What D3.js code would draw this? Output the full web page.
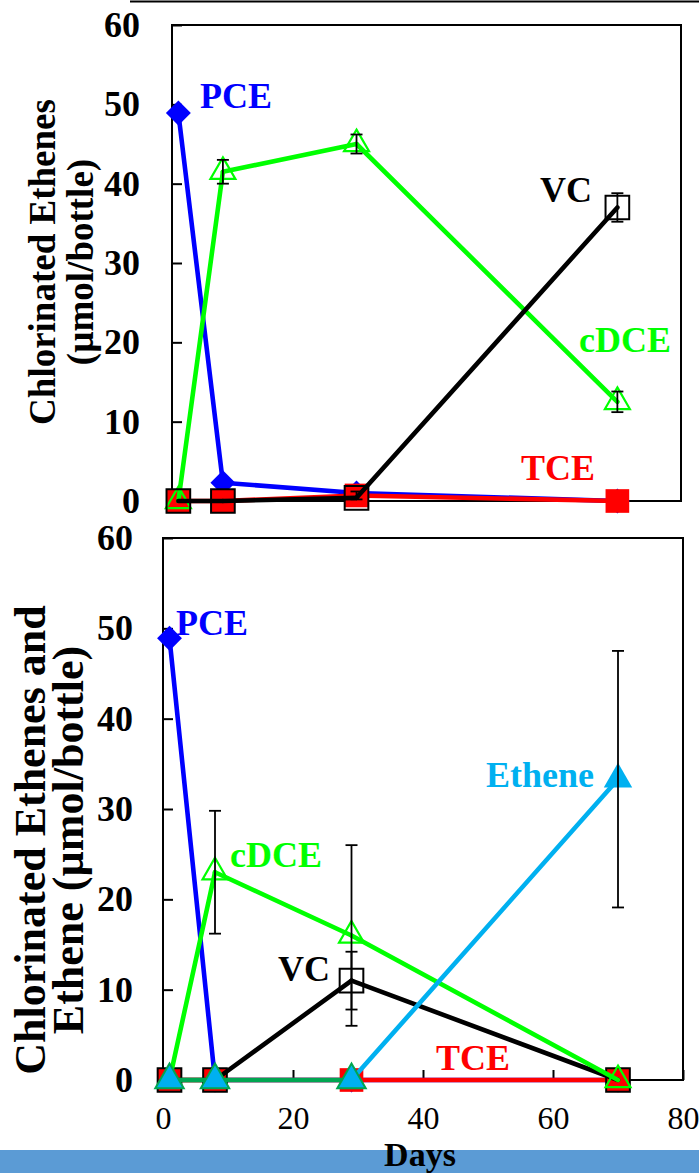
<!DOCTYPE html>
<html>
<head>
<meta charset="utf-8">
<script src="https://cdn.jsdelivr.net/npm/d3@7"></script>
<style>
  html, body { margin: 0; padding: 0; background: #fff; }
  svg { display: block; }
  text { font-family: "Liberation Serif", "Times New Roman", serif; }
</style>
</head>
<body>
<svg id="chart" width="699" height="1173"></svg>
<script>
// ---- data ----
const days = [1, 8, 29, 70];
const xTicks = [0, 20, 40, 60, 80];
const yTicks = [0, 10, 20, 30, 40, 50, 60];

// upper panel: chlorinated ethenes (µmol/bottle)
const aPCE = [48.9, 2.3, 1.0, 0];
const aTCE = [0, 0, 0.7, 0];
const aTCEErr = [0, 0, 0.5, 0];
const aCDCE = [0, 41.5, 45.0, 12.5];
const aCDCEErr = [0, 1.5, 1.2, 1.3];
const aVC = [0, 0, 0.4, 37.0];
const aVCErr = [0, 0, 0, 1.8];

// lower panel: chlorinated ethenes and ethene (µmol/bottle)
const bPCE = [48.9, 0, 0, 0];
const bTCE = [0, 0, 0, 0];
const bVC = [0, 0, 11.0, 0];
const bVCErr = [0, 0, 3.2, 0];
const bCDCE = [0, 23.0, 16.0, 0];
const bCDCEErr = [0, 6.8, 10.0, 0];
const bEthene = [0, 0, 0, 33.3];
const bEtheneErr = [0, 0, 0, 14.2];

// ---- styles ----
const SERIF = '"Liberation Serif", "Times New Roman", serif';
const COL = {
  pce: "#0000ff", tce: "#ff0000", cdce: "#00ff00", vc: "#000000",
  eth: "#00b0f0", ethBase: "#00a651"
};

const svg = d3.select("#chart");

// rule across the top
svg.append("line")
  .attr("x1", 130).attr("x2", 699).attr("y1", 1.5).attr("y2", 1.5)
  .attr("stroke", "#000").attr("stroke-width", 2);

function drawPanel(cfg) {
  const x = d3.scaleLinear().domain([0, 80]).range([cfg.left, cfg.right]);
  const y = d3.scaleLinear().domain([0, 60]).range([cfg.bottom, cfg.top]);
  const g = svg.append("g");

  // y axis with inward ticks
  const ya = g.append("g").attr("transform", `translate(${cfg.left},0)`)
    .call(d3.axisLeft(y).tickValues(yTicks).tickSize(-10).tickPadding(cfg.yPad))
    .attr("font-family", SERIF);
  ya.select(".domain").remove();
  ya.selectAll("line").attr("stroke", "#000").attr("stroke-width", 2);
  ya.selectAll("text").attr("font-size", 36).attr("font-weight", "bold")
    .attr("fill", "#000").style("font-family", SERIF);

  if (cfg.xAxis) {
    const xa = g.append("g").attr("transform", `translate(0,${cfg.bottom})`)
      .call(d3.axisBottom(x).tickValues(xTicks).tickSize(-10).tickPadding(26))
      .attr("font-family", SERIF);
    xa.select(".domain").remove();
    xa.selectAll("line").attr("stroke", "#000").attr("stroke-width", 2);
    xa.selectAll("text").attr("font-size", 32).attr("font-weight", "normal").attr("fill", "#000")
      .style("font-family", SERIF);
  }

  // frame
  g.append("rect")
    .attr("x", cfg.left).attr("y", cfg.top)
    .attr("width", cfg.right - cfg.left).attr("height", cfg.bottom - cfg.top)
    .attr("fill", "none").attr("stroke", "#000").attr("stroke-width", 2);

  const sym = {
    diamond: d3.symbol(d3.symbolSquare, 310),
    square: d3.symbol(d3.symbolSquare, 560),
    tri: d3.symbol(d3.symbolTriangle, 270),
    triBig: d3.symbol(d3.symbolTriangle, 350)
  };

  cfg.series.forEach(s => {
    const pts = days.map((d, i) => ({ d, v: s.values[i], e: s.err ? s.err[i] : 0 }));
    const sg = g.append("g");
    // connecting line, segment by segment so each can take its own colour
    for (let i = 0; i < pts.length - 1; i++) {
      const a = pts[i], b = pts[i + 1];
      const c = s.segColor ? s.segColor(a, b) : s.color;
      sg.append("line")
        .attr("x1", x(a.d)).attr("y1", y(a.v))
        .attr("x2", x(b.d)).attr("y2", y(b.v))
        .attr("stroke", c).attr("stroke-width", 4.6)
        .attr("stroke-linecap", "round");
    }
    // markers
    pts.forEach(p => {
      const m = sg.append("path")
        .attr("transform", `translate(${x(p.d)},${y(p.v)})` + (s.marker === "diamond" ? " rotate(45)" : ""));
      if (s.marker === "diamond") {
        m.attr("d", sym.diamond()).attr("fill", s.color);
      } else if (s.marker === "square") {
        m.attr("d", sym.square()).attr("fill", s.color);
      } else if (s.marker === "squareOpen") {
        m.attr("d", sym.square()).attr("fill", "none").attr("stroke", s.color).attr("stroke-width", 2);
      } else if (s.marker === "triOpen") {
        m.attr("d", sym.tri()).attr("fill", "none").attr("stroke", s.color).attr("stroke-width", 2.2);
      } else if (s.marker === "tri") {
        m.attr("d", sym.triBig()).attr("fill", s.color)
          .attr("stroke", s.markerStroke ? s.markerStroke(p) : "none").attr("stroke-width", 2);
      }
    });
    // error bars
    pts.filter(p => p.e > 0).forEach(p => {
      const cx = x(p.d), y1 = y(p.v + p.e), y2 = y(p.v - p.e);
      sg.append("line").attr("x1", cx).attr("x2", cx).attr("y1", y1).attr("y2", y2)
        .attr("stroke", "#000").attr("stroke-width", 1.8);
      [y1, y2].forEach(yy => sg.append("line")
        .attr("x1", cx - 6).attr("x2", cx + 6).attr("y1", yy).attr("y2", yy)
        .attr("stroke", "#000").attr("stroke-width", 1.8));
    });
  });

  // series names
  cfg.labels.forEach(l => {
    g.append("text").attr("x", l.x).attr("y", l.y).text(l.text)
      .attr("fill", l.color).attr("font-size", 36).attr("font-weight", "bold");
  });

  // y-axis title
  cfg.title.forEach(t => {
    g.append("text")
      .attr("transform", `translate(${t.x},${cfg.titleY}) rotate(-90)`)
      .attr("text-anchor", "middle")
      .attr("font-size", t.size).attr("font-weight", "bold").attr("fill", "#000")
      .text(t.text);
  });
}

// upper panel
drawPanel({
  left: 172, right: 681, top: 25, bottom: 501, yPad: 32, xAxis: false,
  series: [
    { values: aPCE, color: COL.pce, marker: "diamond" },
    { values: aTCE, err: aTCEErr, color: COL.tce, marker: "square" },
    { values: aCDCE, err: aCDCEErr, color: COL.cdce, marker: "triOpen" },
    { values: aVC, err: aVCErr, color: COL.vc, marker: "squareOpen" }
  ],
  labels: [
    { text: "PCE", x: 200, y: 108, color: COL.pce },
    { text: "VC", x: 540, y: 202, color: "#000" },
    { text: "cDCE", x: 579, y: 352, color: COL.cdce },
    { text: "TCE", x: 521, y: 480, color: COL.tce }
  ],
  titleY: 262,
  title: [
    { text: "Chlorinated Ethenes", x: 55, size: 37 },
    { text: "(µmol/bottle)", x: 93, size: 37 }
  ]
});

// lower panel
const onBase = (a, b) => (a.v === 0 && b.v === 0 ? COL.ethBase : COL.eth);
drawPanel({
  left: 163, right: 683, top: 538, bottom: 1080, yPad: 30, xAxis: true,
  series: [
    { values: bPCE, color: COL.pce, marker: "diamond" },
    { values: bTCE, color: COL.tce, marker: "square" },
    { values: bVC, err: bVCErr, color: COL.vc, marker: "squareOpen" },
    { values: bCDCE, err: bCDCEErr, color: COL.cdce, marker: "triOpen" },
    { values: bEthene, err: bEtheneErr, color: COL.eth, marker: "tri",
      segColor: onBase, markerStroke: p => (p.v === 0 ? COL.ethBase : "none") }
  ],
  labels: [
    { text: "PCE", x: 176, y: 635, color: COL.pce },
    { text: "cDCE", x: 230, y: 867, color: COL.cdce },
    { text: "VC", x: 278, y: 981, color: "#000" },
    { text: "Ethene", x: 486, y: 787, color: COL.eth },
    { text: "TCE", x: 436, y: 1070, color: COL.tce }
  ],
  titleY: 840,
  title: [
    { text: "Chlorinated Ethenes and", x: 45, size: 44 },
    { text: "Ethene (µmol/bottle)", x: 83, size: 44 }
  ]
});

// band along the bottom with the x-axis title
svg.append("rect").attr("x", 0).attr("y", 1150).attr("width", 699).attr("height", 23)
  .attr("fill", "#5b9bd5");
svg.append("text").attr("x", 420).attr("y", 1165.5).attr("text-anchor", "middle")
  .attr("font-size", 34).attr("font-weight", "bold").attr("fill", "#000").text("Days");
</script>
</body>
</html>
